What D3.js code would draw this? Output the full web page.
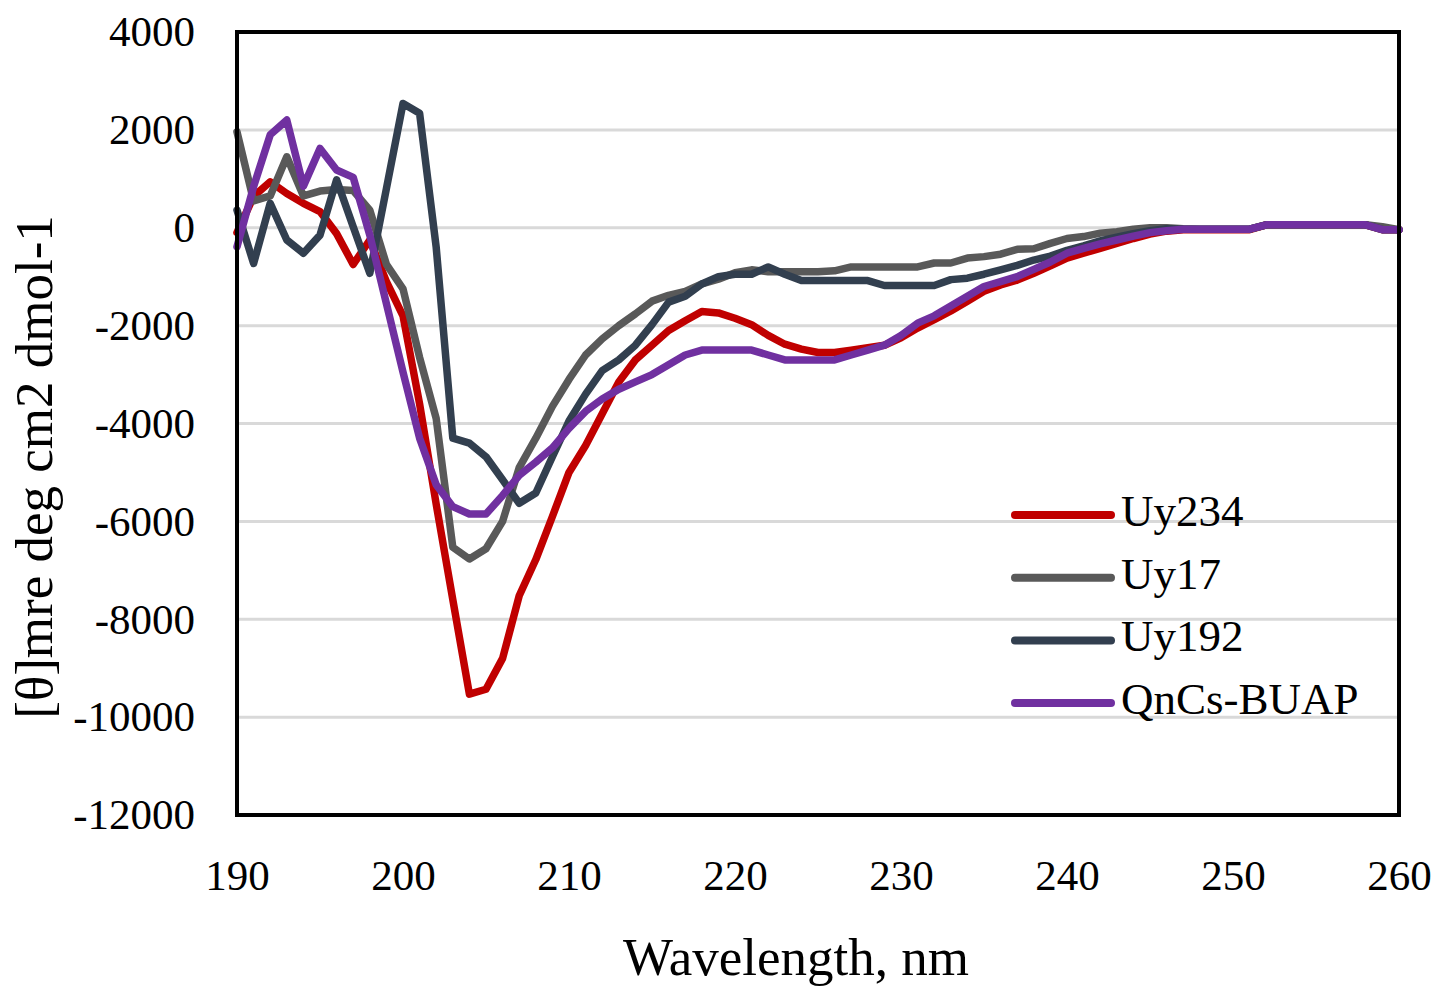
<!DOCTYPE html>
<html>
<head>
<meta charset="utf-8">
<script src="https://cdn.jsdelivr.net/npm/d3@7"></script>
<style>
  body { margin: 0; background: #fff; }
  text { font-family: "Liberation Serif", "DejaVu Serif", serif; fill: #000; }
</style>
</head>
<body>
<script>
var width  = 1449;
var height = 988;

// wavelengths, nm
var wavelengths = [
  190, 191, 192, 193, 194, 195, 196, 197, 198, 199,
  200, 201, 202, 203, 204, 205, 206, 207, 208, 209,
  210, 211, 212, 213, 214, 215, 216, 217, 218, 219,
  220, 221, 222, 223, 224, 225, 226, 227, 228, 229,
  230, 231, 232, 233, 234, 235, 236, 237, 238, 239,
  240, 241, 242, 243, 244, 245, 246, 247, 248, 249,
  250, 251, 252, 253, 254, 255, 256, 257, 258, 259,
  260
];

var uy234 = [
  -100, 640, 940, 700, 500, 330, -120, -750, -250, -1100,
  -1800, -3600, -5650, -7600, -9530, -9430, -8800, -7520, -6780, -5900,
  -5000, -4450, -3800, -3150, -2700, -2400, -2100, -1900, -1710, -1740,
  -1850, -1980, -2200, -2380, -2480, -2550, -2550, -2500, -2450, -2400,
  -2250, -2050, -1880, -1700, -1500, -1300, -1170, -1070, -930, -780,
  -620, -520, -420, -320, -220, -130, -70, -40, -40, -40,
  -40, -40, 60, 60, 60, 60, 60, 60, 60, -40,
  -40
];

var uy17 = [
  1960, 550, 650, 1450, 650, 750, 780, 760, 360, -750,
  -1250, -2650, -3900, -6530, -6770, -6560, -6000, -4900, -4300, -3650,
  -3100, -2600, -2270, -2000, -1760, -1500, -1380, -1300, -1150, -1050,
  -920, -860, -900, -900, -900, -900, -880, -800, -800, -800,
  -800, -800, -720, -720, -620, -590, -540, -440, -430, -320,
  -220, -180, -110, -80, -30, 0, 0, -20, -30, -30,
  -30, -30, 60, 60, 60, 60, 60, 60, 60, 20,
  -40
];

var uy192 = [
  360, -730, 500, -250, -520, -150, 980, 20, -930, 800,
  2540, 2340, -400, -4300, -4400, -4680, -5150, -5630, -5420, -4680,
  -3950, -3400, -2920, -2700, -2400, -1980, -1520, -1400, -1150, -1000,
  -950, -950, -800, -950, -1080, -1080, -1080, -1080, -1080, -1180,
  -1180, -1180, -1180, -1060, -1030, -950, -860, -770, -660, -580,
  -460, -370, -270, -190, -120, -60, -20, -30, -30, -30,
  -30, -30, 60, 60, 60, 60, 60, 60, 60, -40,
  -40
];

var qncs = [
  -390, 840, 1900, 2200, 850, 1620, 1180, 1030, -150, -1550,
  -2950, -4300, -5250, -5700, -5850, -5850, -5470, -5060, -4790, -4500,
  -4100, -3750, -3500, -3300, -3150, -3000, -2800, -2600, -2500, -2500,
  -2500, -2500, -2600, -2700, -2700, -2700, -2700, -2600, -2500, -2400,
  -2200, -1950, -1800, -1600, -1400, -1200, -1100, -1000, -850, -700,
  -520, -420, -330, -250, -170, -100, -60, -30, -30, -30,
  -30, -30, 60, 60, 60, 60, 60, 60, 60, -40,
  -40
];

var seriesNames  = ['Uy234', 'Uy17', 'Uy192', 'QnCs-BUAP'];
var seriesValues = [uy234, uy17, uy192, qncs];
var colors       = ['#C00000', '#595959', '#323F4F', '#7030A0'];

var xTicks = [190, 200, 210, 220, 230, 240, 250, 260];
var yTicks = [-12000, -10000, -8000, -6000, -4000, -2000, 0, 2000, 4000];

var plotLeft = 237, plotRight = 1399, plotTop = 32, plotBottom = 815;

var svg = d3.select('body').append('svg')
    .attr('width', width)
    .attr('height', height);

var x = d3.scaleLinear().domain([190, 260]).range([plotLeft, plotRight]);
var y = d3.scaleLinear().domain([-12000, 4000]).range([plotBottom, plotTop]);

// plain hyphen for negatives, like the original
var plain = function(d) { return String(d); };

// gridlines
svg.append('g')
  .selectAll('line')
  .data(yTicks.slice(1, -1))
  .enter().append('line')
    .attr('x1', plotLeft).attr('x2', plotRight)
    .attr('y1', function(d) { return y(d); })
    .attr('y2', function(d) { return y(d); })
    .attr('stroke', '#D9D9D9')
    .attr('stroke-width', 3);

// axes (labels only)
var yAxis = svg.append('g')
    .attr('transform', 'translate(' + plotLeft + ',0)')
    .call(d3.axisLeft(y).tickValues(yTicks).tickFormat(plain).tickSize(0).tickPadding(42));
yAxis.select('.domain').remove();
yAxis.selectAll('text').attr('font-size', 43).attr('font-family', '"Liberation Serif", serif');

var xAxis = svg.append('g')
    .attr('transform', 'translate(0,' + plotBottom + ')')
    .call(d3.axisBottom(x).tickValues(xTicks).tickFormat(plain).tickSize(0).tickPadding(44));
xAxis.select('.domain').remove();
xAxis.selectAll('text').attr('font-size', 43).attr('font-family', '"Liberation Serif", serif');

// lines
var line = d3.line()
    .x(function(d, i) { return x(wavelengths[i]); })
    .y(function(d) { return y(d); });

svg.append('g')
  .selectAll('path')
  .data(seriesValues)
  .enter().append('path')
    .attr('d', line)
    .attr('fill', 'none')
    .attr('stroke', function(d, i) { return colors[i]; })
    .attr('stroke-width', 7.5)
    .attr('stroke-linejoin', 'round')
    .attr('stroke-linecap', 'round');

// frame
svg.append('rect')
    .attr('x', plotLeft).attr('y', plotTop)
    .attr('width', plotRight - plotLeft).attr('height', plotBottom - plotTop)
    .attr('fill', 'none')
    .attr('stroke', '#000')
    .attr('stroke-width', 4);

// legend
var legend = svg.append('g')
  .selectAll('g')
  .data(seriesNames)
  .enter().append('g')
    .attr('transform', function(d, i) { return 'translate(1015,' + (515 + i * 62.7) + ')'; });

legend.append('line')
    .attr('x1', 0).attr('x2', 96)
    .attr('stroke', function(d, i) { return colors[i]; })
    .attr('stroke-width', 8)
    .attr('stroke-linecap', 'round');

legend.append('text')
    .attr('x', 106)
    .attr('y', 11)
    .attr('font-size', 45)
    .text(function(d) { return d; });

// axis titles
svg.append('text')
    .attr('x', 796)
    .attr('y', 975)
    .attr('text-anchor', 'middle')
    .attr('font-size', 53)
    .text('Wavelength, nm');

svg.append('text')
    .attr('transform', 'translate(52,467) rotate(-90)')
    .attr('text-anchor', 'middle')
    .attr('font-size', 53)
    .text('[θ]mre deg cm2 dmol-1');
</script>
</body>
</html>
